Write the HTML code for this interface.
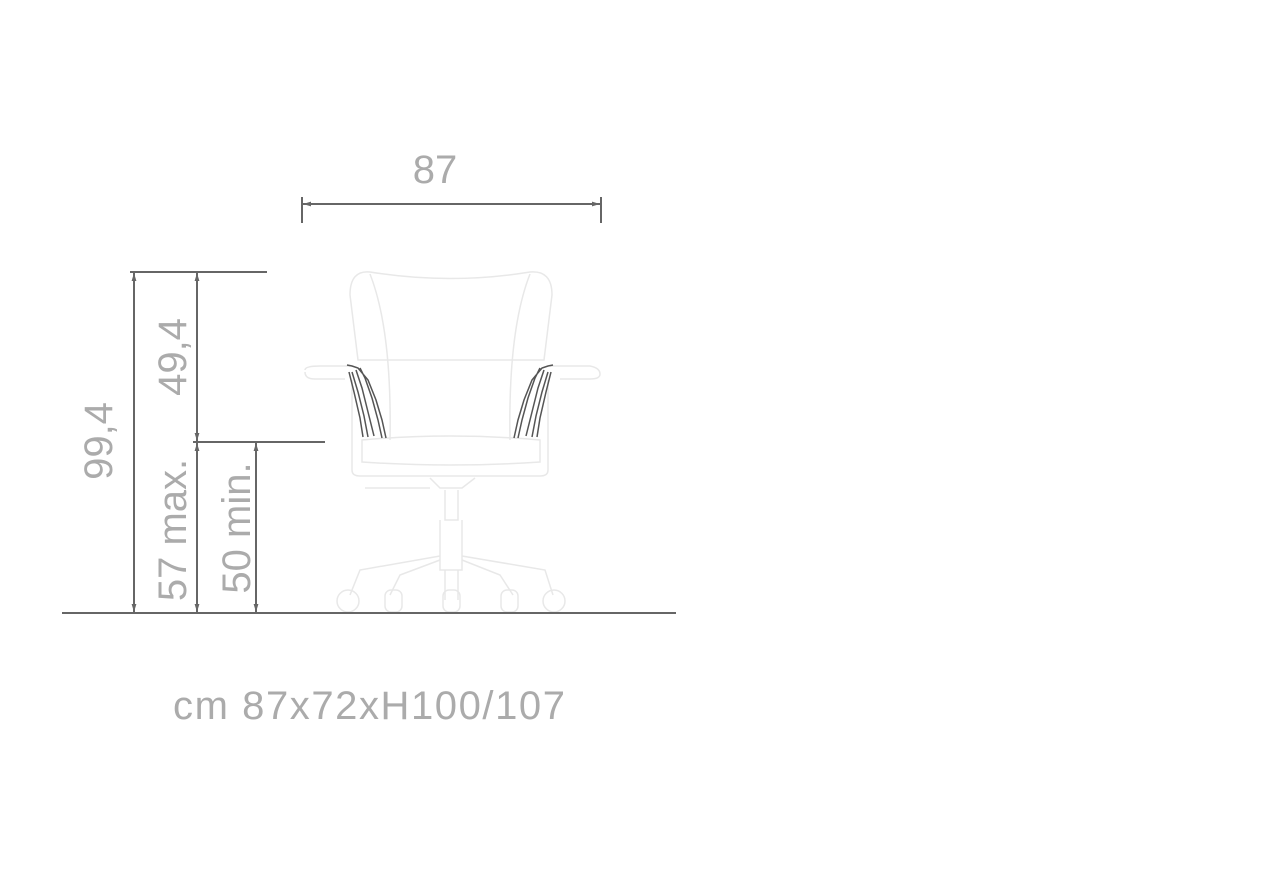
<!DOCTYPE html>
<html><head><style>
html,body{margin:0;padding:0;background:#fff;}
svg{display:block;}
text{font-family:"Liberation Sans",sans-serif;fill:#ababab;}
</style></head><body>
<svg width="1261" height="877" viewBox="0 0 1261 877" xmlns="http://www.w3.org/2000/svg">
<defs>
<marker id="a" viewBox="0 0 10 10" refX="10" refY="5" markerWidth="8" markerHeight="8" orient="auto-start-reverse" markerUnits="userSpaceOnUse"><path d="M0,2 L10,5 L0,8 z" fill="#666"/></marker>
</defs>
<g fill="none" stroke="#e8e8e8" stroke-width="1.5">
<path d="M370,272 Q450,285 530,272 Q552,270 552,295 L544,360 L358,360 L350,295 Q350,270 370,272 Z"/>
<path d="M370,274 Q392,330 390,440 M530,274 Q508,330 510,440"/>
<path d="M305,370 Q305,366 320,366 L350,366 M550,366 L590,366 Q600,368 600,374 Q600,379 590,379 L560,379 M345,379 L315,379 Q305,379 305,372"/>
<path d="M352,380 L352,470 Q352,476 360,476 L540,476 Q548,476 548,470 L548,380"/>
<path d="M362,440 Q450,432 540,440 L540,462 Q450,468 362,462 Z"/>
<path d="M430,478 L440,488 L462,488 L475,478 M365,488 L430,488"/>
<path d="M445,490 L445,520 L458,520 L458,490 M440,520 L440,570 L462,570 L462,520"/>
<path d="M440,556 L360,570 L350,595 M462,556 L545,570 L553,595 M440,560 L400,575 L390,595 M462,560 L500,575 L513,595 M445,570 L445,600 M458,570 L458,600"/>
<circle cx="348" cy="601" r="11"/><circle cx="554" cy="601" r="11"/>
<rect x="385" y="590" width="17" height="22" rx="6"/><rect x="443" y="590" width="17" height="22" rx="6"/><rect x="501" y="590" width="17" height="22" rx="6"/>
</g>
<g stroke="#555" stroke-width="1.5" fill="none">
<path d="M347,365 L352,366 L358,368 L368,380 L376,400 L382,420 L386,438 M360,368 L365,378 L372,398 L378,420 L382,438 M356,370 L362,388 L368,412 L374,436 M352,372 L358,392 L364,416 L368,437 M349,372 L354,392 L360,418 L363,437"/>
<path d="M553,365 L548,366 L542,368 L532,380 L524,400 L518,420 L514,438 M540,368 L535,378 L528,398 L522,420 L518,438 M544,370 L538,388 L532,412 L526,436 M548,372 L542,392 L536,416 L532,437 M551,372 L546,392 L540,418 L537,437"/>
</g>
<g stroke="#666" stroke-width="2" fill="none">
<line x1="62" y1="613" x2="676" y2="613"/>
<line x1="130" y1="272" x2="267" y2="272"/>
<line x1="193" y1="442" x2="325" y2="442"/>
<line x1="302" y1="197" x2="302" y2="223"/>
<line x1="601" y1="197" x2="601" y2="223"/>
<line x1="303" y1="204" x2="600" y2="204" marker-start="url(#a)" marker-end="url(#a)"/>
<line x1="134" y1="273" x2="134" y2="612" marker-start="url(#a)" marker-end="url(#a)"/>
<line x1="197" y1="273" x2="197" y2="441" marker-start="url(#a)" marker-end="url(#a)"/>
<line x1="197" y1="443" x2="197" y2="612" marker-start="url(#a)" marker-end="url(#a)"/>
<line x1="256" y1="443" x2="256" y2="612" marker-start="url(#a)" marker-end="url(#a)"/>
</g>
<text x="435" y="183" font-size="40" text-anchor="middle">87</text>
<text transform="translate(112,441) rotate(-90)" font-size="40" text-anchor="middle">99,4</text>
<text transform="translate(186,357) rotate(-90)" font-size="40" text-anchor="middle">49,4</text>
<text transform="translate(186,530) rotate(-90)" font-size="40" text-anchor="middle">57 max.</text>
<text transform="translate(250,528) rotate(-90)" font-size="40" text-anchor="middle">50 min.</text>
<text x="173" y="719" font-size="40" textLength="392" lengthAdjust="spacing">cm 87x72xH100/107</text>
</svg>
</body></html>
